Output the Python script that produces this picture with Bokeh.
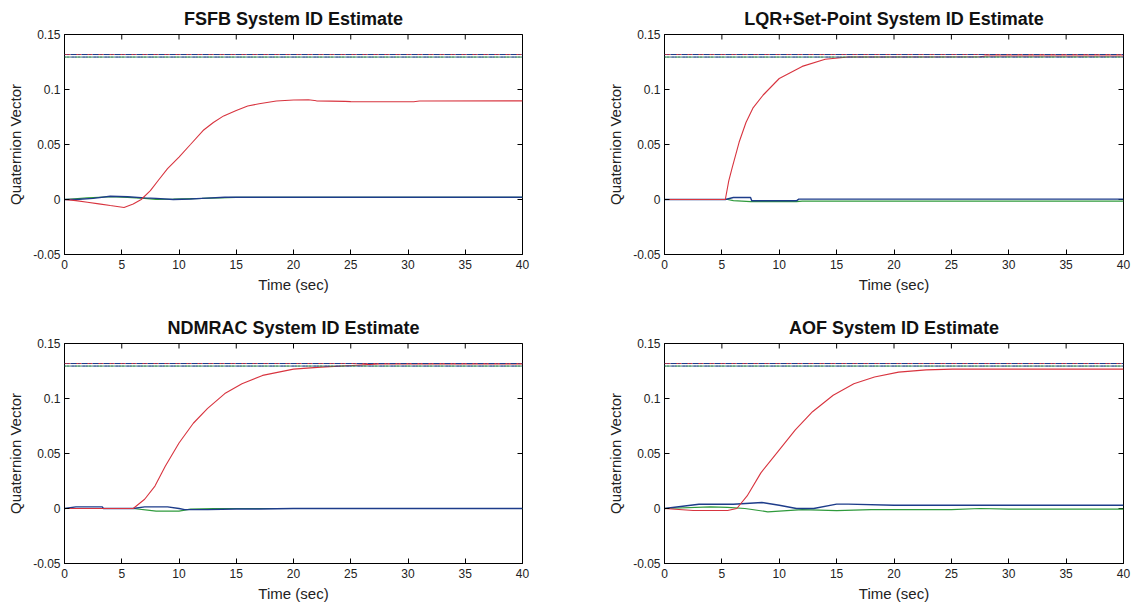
import math
from bokeh.plotting import figure
from bokeh.layouts import column, row
from bokeh.models import Range1d, FixedTicker, Span, CustomJSTickFormatter
from bokeh.embed import file_html
from bokeh.resources import INLINE

# ---------------- data ----------------
x_ticks = [0, 5, 10, 15, 20, 25, 30, 35, 40]
y_ticks = [-0.05, 0, 0.05, 0.1, 0.15]
x_lim = (0, 40)
y_lim = (-0.05, 0.15)
truth_upper = 0.1318
truth_lower = 0.1295

titles = ["FSFB System ID Estimate", "LQR+Set-Point System ID Estimate",
          "NDMRAC System ID Estimate", "AOF System ID Estimate"]

# FSFB
fsfb_red_t = [0, 1, 2, 3, 4, 5.2, 6, 6.7, 7.5, 8.2, 9, 10, 11, 12.1, 13, 13.9, 15, 16, 17, 18.5, 20, 21.3, 22, 24.5, 25, 30.5, 31, 40]
fsfb_red_y = [0, -0.001, -0.0025, -0.004, -0.0055, -0.0072, -0.004, 0, 0.008, 0.0175, 0.028, 0.0386, 0.050, 0.0627, 0.070, 0.076, 0.081, 0.085, 0.087, 0.0895, 0.0904, 0.0907, 0.0897, 0.0892, 0.089, 0.0889, 0.0895, 0.0897]
fsfb_blue_t = [0, 1, 2.5, 4, 5.5, 7, 8, 9.5, 11, 12, 14, 24, 40]
fsfb_blue_y = [0, 0, 0.001, 0.003, 0.0025, 0.0015, 0.001, 0, 0.0005, 0.001, 0.002, 0.002, 0.002]
fsfb_green_t = [0, 2, 4, 5.5, 7, 8, 9.5, 12, 15, 40]
fsfb_green_y = [0, 0.0015, 0.0025, 0.002, 0.001, 0.0002, 0.0003, 0.001, 0.002, 0.002]

# LQR + Set-Point
lqr_red_t = [0, 5.3, 5.6, 5.9, 6.5, 7.1, 7.7, 8.6, 10, 12, 14, 16, 27.5, 28, 40]
lqr_red_y = [0, 0, 0.017, 0.029, 0.052, 0.070, 0.083, 0.095, 0.110, 0.121, 0.1275, 0.1295, 0.1298, 0.1305, 0.1305]
lqr_blue_t = [0, 5.3, 6, 7.5, 7.6, 11.5, 11.7, 40]
lqr_blue_y = [0, 0, 0.0018, 0.0018, -0.0012, -0.0012, 0.0003, 0.0003]
lqr_green_t = [0, 5.5, 6, 7.5, 11.5, 12, 40]
lqr_green_y = [0, 0, -0.001, -0.002, -0.002, -0.0015, -0.0015]

# NDMRAC
ndm_red_t = [0, 6, 7, 7.9, 8.8, 10, 11.25, 12.5, 14, 15.5, 17.3, 20, 22.4, 25.1, 27.5, 40]
ndm_red_y = [0, 0, 0.0084, 0.0204, 0.0384, 0.0595, 0.0775, 0.091, 0.1045, 0.1135, 0.121, 0.1267, 0.1285, 0.130, 0.1315, 0.1315]
ndm_blue_t = [0, 1, 3.3, 3.4, 6, 7, 9, 10, 10.5, 12.5, 15, 17, 20, 40]
ndm_blue_y = [0, 0.0015, 0.0015, 0, 0, 0.0015, 0.0015, 0, -0.001, -0.001, -0.0004, -0.0004, 0, 0]
ndm_green_t = [0, 6, 8, 10, 11, 13, 40]
ndm_green_y = [0, 0, -0.0024, -0.0024, -0.0005, 0, 0]

# AOF
aof_red_t = [0, 2.5, 5.5, 6.3, 7.2, 8.4, 9.9, 11.4, 12.9, 14.7, 16.5, 18.3, 20.4, 22.8, 25.1, 40]
aof_red_y = [0, -0.0018, -0.0018, 0, 0.0114, 0.0324, 0.052, 0.0715, 0.088, 0.103, 0.1135, 0.1195, 0.124, 0.126, 0.1267, 0.1267]
aof_blue_t = [0, 3, 6, 8.5, 10, 11.5, 13, 15, 16, 20, 40]
aof_blue_y = [0, 0.0039, 0.0039, 0.0054, 0.003, 0, 0, 0.004, 0.004, 0.003, 0.003]
aof_green_t = [0, 4, 5.5, 7, 9, 12, 15, 18, 25, 27.5, 30, 40]
aof_green_y = [0, 0.0015, 0.001, 0, -0.003, -0.001, -0.002, -0.001, -0.001, 0, -0.0005, -0.0005]

panels = [
    (fsfb_red_t, fsfb_red_y, fsfb_blue_t, fsfb_blue_y, fsfb_green_t, fsfb_green_y),
    (lqr_red_t, lqr_red_y, lqr_blue_t, lqr_blue_y, lqr_green_t, lqr_green_y),
    (ndm_red_t, ndm_red_y, ndm_blue_t, ndm_blue_y, ndm_green_t, ndm_green_y),
    (aof_red_t, aof_red_y, aof_blue_t, aof_blue_y, aof_green_t, aof_green_y),
]

# ---------------- styling ----------------
FONT = "Liberation Sans"
RED = "#d8343f"
BLUE = "#1d3c8a"
GREEN = "#2f9a3c"
TXT = "#222222"

fmt = CustomJSTickFormatter(code="return String(Math.round(tick*1000)/1000);")


def style_axis(ax, tick_standoff, label_standoff):
    ax.major_tick_in = 5
    ax.major_tick_out = 0
    ax.minor_tick_line_color = None
    ax.axis_line_color = "black"
    ax.major_tick_line_color = "black"
    ax.major_label_text_font = FONT
    ax.major_label_text_color = TXT
    ax.major_label_text_font_size = "12px"
    ax.major_label_standoff = tick_standoff
    ax.axis_label_text_font = FONT
    ax.axis_label_text_font_size = "15px"
    ax.axis_label_text_font_style = "normal"
    ax.axis_label_text_color = TXT
    ax.axis_label_standoff = label_standoff


def make_fig(idx, width, height, bl, br, bt, bb):
    rt, ry, bt_, by, gt, gy = panels[idx]
    p = figure(width=width, height=height,
               x_range=Range1d(*x_lim), y_range=Range1d(*y_lim),
               output_backend="svg", toolbar_location=None,
               min_border_left=bl, min_border_right=br,
               min_border_top=bt, min_border_bottom=bb,
               title=titles[idx])
    p.title.align = "center"
    p.title.text_font = FONT
    p.title.text_font_size = "18px"
    p.title.text_font_style = "bold"
    p.title.text_color = "#111111"
    p.title.standoff = 12
    p.title.text_line_height = 0.9
    p.grid.visible = False
    p.outline_line_color = "black"
    p.outline_line_alpha = 1.0

    p.xaxis.ticker = FixedTicker(ticks=x_ticks)
    p.yaxis.ticker = FixedTicker(ticks=y_ticks)
    p.yaxis.formatter = fmt
    p.xaxis.axis_label = "Time (sec)"
    p.yaxis.axis_label = "Quaternion Vector"
    for ax in p.xaxis:
        style_axis(ax, 5, 4)
    for ax in p.yaxis:
        style_axis(ax, 4, 6)

    # inward ticks on the top and right edges (box), clipped to the frame
    p.scatter(x=x_ticks, y=[y_lim[1]] * len(x_ticks), marker="dash", size=10,
              angle=math.pi / 2, line_color="black", line_width=1)
    p.scatter(x=[x_lim[1]] * len(y_ticks), y=y_ticks, marker="dash", size=10,
              line_color="black", line_width=1)

    # truth (reference) values, dash-dot
    p.add_layout(Span(location=truth_upper, dimension="width", line_color=RED,
                      line_width=1, line_dash="6 2 1 2"))
    p.add_layout(Span(location=truth_upper, dimension="width", line_color=BLUE,
                      line_width=1, line_dash="6 2 1 2", line_dash_offset=5))
    p.add_layout(Span(location=truth_lower, dimension="width", line_color=GREEN,
                      line_width=1, line_dash="6 2 1 2"))
    p.add_layout(Span(location=truth_lower, dimension="width", line_color=BLUE,
                      line_width=1, line_dash="6 2 1 2", line_dash_offset=5))

    p.line(gt, gy, line_color=GREEN, line_width=1.2)
    p.line(bt_, by, line_color=BLUE, line_width=1.4)
    p.line(rt, ry, line_color=RED, line_width=1.1)
    return p


p1 = make_fig(0, 600, 300, 64, 78, 34, 46)
p2 = make_fig(1, 536, 300, 64, 13, 34, 46)
p3 = make_fig(2, 600, 309, 64, 78, 43, 46)
p4 = make_fig(3, 536, 309, 64, 13, 43, 46)

layout = column(row(p1, p2), row(p3, p4))
open("out.html", "w").write(file_html(layout, INLINE))
